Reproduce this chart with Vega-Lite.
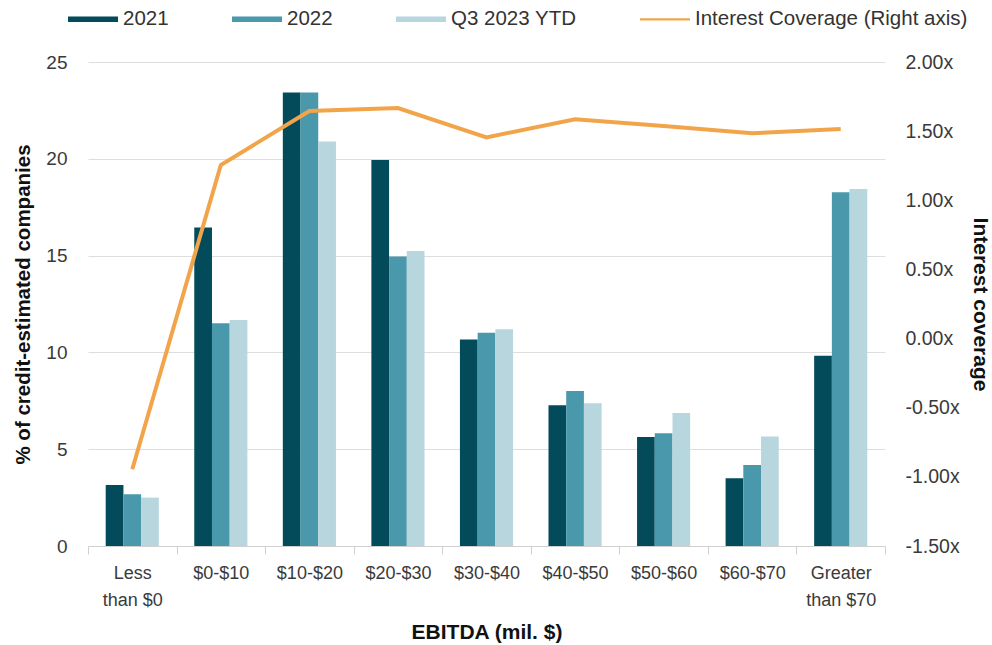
{
  "$schema": "https://vega.github.io/schema/vega-lite/v6.json",
  "width": 797,
  "height": 484,
  "autosize": {"type": "none"},
  "padding": {"left": 88, "top": 62, "right": 107, "bottom": 99},
  "background": "white",
  "config": {
    "view": {"stroke": null},
    "font": "Liberation Sans",
    "axis": {"labelFont": "Liberation Sans", "titleFont": "Liberation Sans", "labelColor": "#3a3a3a", "titleColor": "#111111"}
  },
  "datasets": {
    "bars": [
      {"category": "Less than $0", "series": "2021", "value": 3.15},
      {"category": "Less than $0", "series": "2022", "value": 2.67},
      {"category": "Less than $0", "series": "Q3 2023 YTD", "value": 2.5},
      {"category": "$0-$10", "series": "2021", "value": 16.45},
      {"category": "$0-$10", "series": "2022", "value": 11.5},
      {"category": "$0-$10", "series": "Q3 2023 YTD", "value": 11.67},
      {"category": "$10-$20", "series": "2021", "value": 23.43},
      {"category": "$10-$20", "series": "2022", "value": 23.43},
      {"category": "$10-$20", "series": "Q3 2023 YTD", "value": 20.9},
      {"category": "$20-$30", "series": "2021", "value": 19.94},
      {"category": "$20-$30", "series": "2022", "value": 14.95},
      {"category": "$20-$30", "series": "Q3 2023 YTD", "value": 15.24},
      {"category": "$30-$40", "series": "2021", "value": 10.67},
      {"category": "$30-$40", "series": "2022", "value": 11.02},
      {"category": "$30-$40", "series": "Q3 2023 YTD", "value": 11.19},
      {"category": "$40-$50", "series": "2021", "value": 7.27},
      {"category": "$40-$50", "series": "2022", "value": 8.0},
      {"category": "$40-$50", "series": "Q3 2023 YTD", "value": 7.37},
      {"category": "$50-$60", "series": "2021", "value": 5.63},
      {"category": "$50-$60", "series": "2022", "value": 5.82},
      {"category": "$50-$60", "series": "Q3 2023 YTD", "value": 6.87},
      {"category": "$60-$70", "series": "2021", "value": 3.5},
      {"category": "$60-$70", "series": "2022", "value": 4.18},
      {"category": "$60-$70", "series": "Q3 2023 YTD", "value": 5.65},
      {"category": "Greater than $70", "series": "2021", "value": 9.83},
      {"category": "Greater than $70", "series": "2022", "value": 18.27},
      {"category": "Greater than $70", "series": "Q3 2023 YTD", "value": 18.44}
    ],
    "coverage": [
      {"category": "Less than $0", "coverage": -0.945},
      {"category": "$0-$10", "coverage": 1.255},
      {"category": "$10-$20", "coverage": 1.646},
      {"category": "$20-$30", "coverage": 1.667},
      {"category": "$30-$40", "coverage": 1.455},
      {"category": "$40-$50", "coverage": 1.586},
      {"category": "$50-$60", "coverage": 1.537},
      {"category": "$60-$70", "coverage": 1.484},
      {"category": "Greater than $70", "coverage": 1.516}
    ]
  },
  "encoding": {
    "x": {
      "field": "category",
      "type": "nominal",
      "scale": {
        "domain": ["Less than $0", "$0-$10", "$10-$20", "$20-$30", "$30-$40", "$40-$50", "$50-$60", "$60-$70", "Greater than $70"],
        "paddingInner": 0,
        "paddingOuter": 0
      },
      "axis": {
        "title": "EBITDA (mil. $)",
        "titleFontSize": 21,
        "titleFontWeight": "bold",
        "titlePadding": 12,
        "labelAngle": 0,
        "labelFontSize": 18,
        "labelLineHeight": 27,
        "labelPadding": 10,
        "labelExpr": "datum.value == 'Less than $0' ? ['Less', 'than $0'] : datum.value == 'Greater than $70' ? ['Greater', 'than $70'] : datum.label",
        "tickBand": "extent",
        "tickSize": 8,
        "tickColor": "#d0d0d0",
        "domainColor": "#d0d0d0",
        "grid": false,
        "labelLimit": 200
      }
    }
  },
  "layer": [
    {
      "data": {"name": "bars"},
      "mark": {"type": "bar"},
      "encoding": {
        "xOffset": {"field": "series", "type": "nominal", "scale": {"paddingInner": 0, "paddingOuter": 1.1}},
        "y": {
          "field": "value",
          "type": "quantitative",
          "scale": {"domain": [0, 25], "nice": false},
          "axis": {
            "title": "% of credit-estimated companies",
            "titleFontSize": 20.5,
            "titleFontWeight": "bold",
            "titlePadding": 12,
            "values": [0, 5, 10, 15, 20, 25],
            "labelFontSize": 19,
            "labelPadding": 21,
            "ticks": false,
            "domain": false,
            "grid": true,
            "gridColor": "#dedede",
            "gridWidth": 1
          }
        },
        "color": {
          "field": "series",
          "type": "nominal",
          "scale": {
            "domain": ["2021", "2022", "Q3 2023 YTD", "Interest Coverage (Right axis)"],
            "range": ["#034a5b", "#4a98ac", "#b8d6de", "#f2a44a"]
          },
          "legend": {
            "title": null,
            "orient": "none",
            "legendX": -20,
            "legendY": -68,
            "direction": "horizontal",
            "columns": 4,
            "labelFont": "Liberation Sans",
            "labelFontSize": 20.5,
            "labelColor": "#333333",
            "labelOffset": 5,
            "labelLimit": 400,
            "columnPadding": 63,
            "symbolSize": 2500,
            "symbolStrokeWidth": 0,
            "encode": {
              "symbols": {
                "update": {
                  "shape": {"signal": "datum.value === 'Interest Coverage (Right axis)' ? 'M-1,-0.045H1V0.045H-1Z' : 'M-1,-0.11H1V0.11H-1Z'"},
                  "fill": {"scale": "color", "field": "value"},
                  "fillOpacity": {"value": 1},
                  "strokeWidth": {"value": 0}
                }
              }
            }
          }
        }
      }
    },
    {
      "data": {"name": "coverage"},
      "mark": {"type": "line", "strokeWidth": 4, "color": "#f2a44a"},
      "encoding": {
        "y": {
          "field": "coverage",
          "type": "quantitative",
          "scale": {"domain": [-1.5, 2], "nice": false},
          "axis": {
            "orient": "right",
            "title": "Interest coverage",
            "titleFontSize": 21,
            "titleFontWeight": "bold",
            "titlePadding": 10,
            "values": [-1.5, -1, -0.5, 0, 0.5, 1, 1.5, 2],
            "labelExpr": "(datum.value < 0 ? '-' : '') + format(abs(datum.value), '.2f') + 'x'",
            "labelFontSize": 19.5,
            "labelPadding": 20,
            "ticks": false,
            "domain": false,
            "grid": false
          }
        },
        "color": {"datum": "Interest Coverage (Right axis)"}
      }
    }
  ],
  "resolve": {"scale": {"y": "independent"}}
}
